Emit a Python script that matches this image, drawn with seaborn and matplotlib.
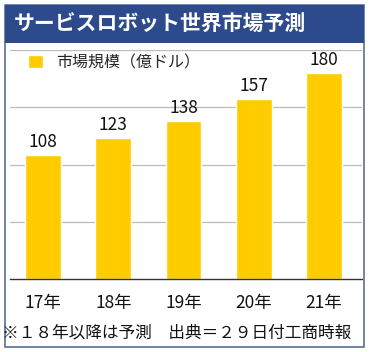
import matplotlib
matplotlib.use("Agg")
import matplotlib.pyplot as plt
from matplotlib.patches import Rectangle
import pandas as pd
import seaborn as sns

# chart data
years = ["17年", "18年", "19年", "20年", "21年"]
market_size = [108, 123, 138, 157, 180]

title = "サービスロボット世界市場予測"
legend_label = "市場規模（億ドル）"
footnote = "※１８年以降は予測　出典＝２９日付工商時報"

sns.set_theme(style="white")
plt.rcParams["font.family"] = ["Noto Sans CJK JP", "DejaVu Sans"]

W, H = 371, 352
fig = plt.figure(figsize=(W / 100, H / 100), dpi=100)
fig.patch.set_facecolor("white")

# outer frame and title banner
fig.patches.append(Rectangle((5 / W, 1 - 347 / H), 359 / W, 342 / H,
                             transform=fig.transFigure, facecolor="none",
                             edgecolor="#5a6f96", linewidth=1.2))
fig.patches.append(Rectangle((5 / W, 1 - 43 / H), 359 / W, 38 / H,
                             transform=fig.transFigure, facecolor="#2c4a8c",
                             edgecolor="none"))
fig.text(14 / W, 1 - 24 / H, title, color="white", fontsize=15,
         fontweight="bold", va="center", ha="left")

ax = fig.add_axes([10 / W, 1 - 279 / H, 352 / W, 229 / H])
df = pd.DataFrame({"year": years, "size": market_size})
sns.barplot(data=df, x="year", y="size", color="#ffcc00", saturation=1,
            width=0.51, label=legend_label, ax=ax)

ax.set_ylim(0, 200)
ax.set_xlim(-0.47, 4.54)
ax.set_yticks([50, 100, 150, 200])
ax.yaxis.grid(True, color="#bbbbbb", linewidth=0.9)
ax.set_axisbelow(True)
ax.tick_params(axis="y", left=False, labelleft=False)
ax.tick_params(axis="x", length=0, pad=11, labelsize=12.5, colors="#111111")
ax.set_xlabel("")
ax.set_ylabel("")
for side in ["top", "left", "right"]:
    ax.spines[side].set_visible(False)
ax.spines["bottom"].set_color("#333333")
ax.spines["bottom"].set_linewidth(1.0)

ax.bar_label(ax.containers[0], padding=3, fontsize=12.5, color="#111111")

ax.legend(loc="upper left", bbox_to_anchor=(28 / W, 1 - 54 / H),
          bbox_transform=fig.transFigure, frameon=False, fontsize=11.5,
          handlelength=0.95, handleheight=0.95, handletextpad=0.8,
          borderpad=0, borderaxespad=0)

fig.text(2 / W, 1 - 333 / H, footnote, fontsize=12, va="center",
         ha="left", color="#111111")

fig.savefig("out.png", dpi=100)
